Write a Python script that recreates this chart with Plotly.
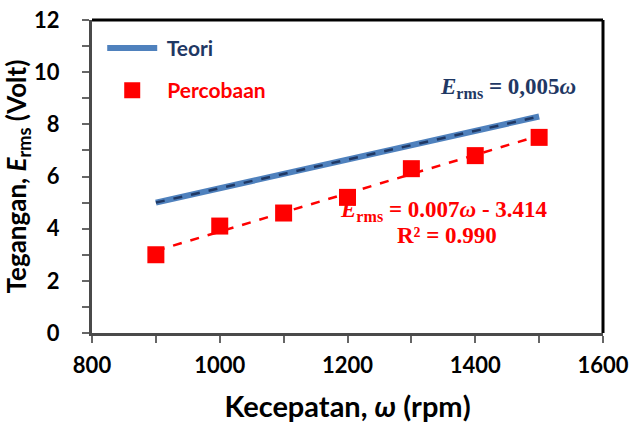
import numpy as np
import plotly.graph_objects as go

speed = [900, 1000, 1100, 1200, 1300, 1400, 1500]
teori = [5.0, 5.55, 6.1, 6.65, 7.2, 7.75, 8.3]
percobaan = [3.0, 4.1, 4.6, 5.2, 6.3, 6.8, 7.5]
x_ticks = [800, 1000, 1200, 1400, 1600]
y_ticks = [0, 2, 4, 6, 8, 10, 12]

slope, intercept = np.polyfit(speed, percobaan, 1)
trend_x = [speed[0], speed[-1]]
trend_y = [slope * v + intercept for v in trend_x]

NAVY = "#1F3864"
BLUE = "#4F81BD"
RED = "#FF0000"
FONT = "Lato"

fig = go.Figure()
fig.add_trace(go.Scatter(x=speed, y=teori, mode="lines",
                         line=dict(color=BLUE, width=6),
                         legendgroup="a",
                         name="<span style='color:%s'> Teori</span>" % NAVY))
fig.add_trace(go.Scatter(x=speed, y=teori, mode="lines",
                         line=dict(color=NAVY, width=2.5, dash="dash"),
                         showlegend=False, hoverinfo="skip"))
fig.add_trace(go.Scatter(x=trend_x, y=trend_y, mode="lines",
                         line=dict(color=RED, width=2.5, dash="dash"),
                         showlegend=False, hoverinfo="skip"))
fig.add_trace(go.Scatter(x=speed, y=percobaan, mode="markers",
                         marker=dict(symbol="square", size=17, color=RED),
                         legendgroup="b",
                         name="<span style='color:%s'> Percobaan</span>" % RED))

fig.add_annotation(x=0.677, y=0.783, xref="paper", yref="paper",
                   xanchor="left", yanchor="middle",
                   text="<b><i>E</i><sub>rms</sub> = 0,005<i>ω</i></b>",
                   showarrow=False,
                   font=dict(family="Liberation Serif", size=23, color=NAVY))
fig.add_annotation(x=0.481, y=0.39, xref="paper", yref="paper",
                   xanchor="left", yanchor="middle",
                   text="<b><i>E</i><sub>rms</sub> = 0.007<i>ω</i> - 3.414</b>",
                   showarrow=False,
                   font=dict(family="Liberation Serif", size=23, color=RED))
fig.add_annotation(x=0.593, y=0.31, xref="paper", yref="paper",
                   xanchor="left", yanchor="middle",
                   text="<b>R² = 0.990</b>",
                   showarrow=False,
                   font=dict(family="Liberation Serif", size=23, color=RED))

# top and right black border
fig.add_shape(type="line", xref="paper", yref="paper", x0=0, x1=1, y0=1, y1=1,
              line=dict(color="black", width=3))
fig.add_shape(type="line", xref="paper", yref="paper", x0=1, x1=1, y0=0, y1=1,
              line=dict(color="black", width=3))

fig.update_layout(
    width=631, height=426,
    margin=dict(l=92, r=28, t=20, b=93),
    plot_bgcolor="white", paper_bgcolor="white",
    font=dict(family=FONT, color="black"),
    legend=dict(x=0.02, y=0.975, xanchor="left", yanchor="top",
                bgcolor="rgba(0,0,0,0)", tracegroupgap=12,
                font=dict(family=FONT, size=21, color="black", weight="bold"),
                itemwidth=50),
    xaxis=dict(range=[800, 1600], tickvals=x_ticks, ticks="outside",
               ticklen=7, tickcolor="#666", tickwidth=2,
               minor=dict(dtick=100, ticks="outside", ticklen=7, tickcolor="#666", tickwidth=2),
               showgrid=False, zeroline=False, automargin=False,
               ticklabeloverflow="allow",
               showline=True, linecolor="#4a4a4a", linewidth=3,
               ticklabelstandoff=4,
               tickfont=dict(family=FONT, size=22, color="black", weight="bold"),
               title=dict(text="<b>Kecepatan, <i>ω</i> (rpm)</b>",
                          font=dict(family=FONT, size=29, color="black"),
                          standoff=20)),
    yaxis=dict(range=[0, 12], tickvals=y_ticks, ticks="outside",
               ticklen=7, tickcolor="#666", tickwidth=2,
               minor=dict(dtick=1, ticks="outside", ticklen=7, tickcolor="#666", tickwidth=2),
               showgrid=False, zeroline=False, automargin=False,
               ticklabeloverflow="allow",
               showline=True, linecolor="#4a4a4a", linewidth=3,
               ticklabelstandoff=18,
               tickfont=dict(family=FONT, size=22, color="black", weight="bold"),
               title=dict(text="<b>Tegangan, <i>E</i><sub>rms</sub> (Volt)</b>",
                          font=dict(family=FONT, size=26, color="black"),
                          standoff=6)),
)

fig.write_html("out.html", config={"displayModeBar": False},
               post_script="document.body.style.margin='0';")
